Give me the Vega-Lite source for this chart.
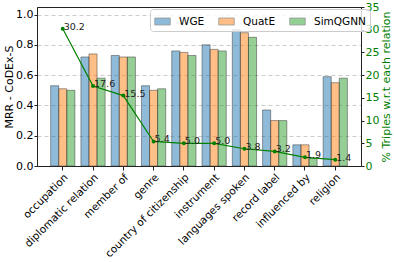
{
  "$schema": "https://vega.github.io/schema/vega-lite/v6.json",
  "autosize": {"type": "none"},
  "width": 324,
  "height": 159,
  "padding": {"left": 37, "top": 7, "right": 33, "bottom": 96},
  "config": {
    "font": "DejaVu Sans",
    "view": {"stroke": "#222", "strokeWidth": 1},
    "axis": {"labelFont": "DejaVu Sans", "titleFont": "DejaVu Sans", "labelColor": "#000", "titleColor": "#000", "domainColor": "#222", "tickColor": "#222", "titleFontWeight": "normal"}
  },
  "datasets": {
    "mrr": [
      {"relation": "occupation", "model": "WGE", "mrr": 0.53},
      {"relation": "occupation", "model": "QuatE", "mrr": 0.51},
      {"relation": "occupation", "model": "SimQGNN", "mrr": 0.50},
      {"relation": "diplomatic relation", "model": "WGE", "mrr": 0.72},
      {"relation": "diplomatic relation", "model": "QuatE", "mrr": 0.74},
      {"relation": "diplomatic relation", "model": "SimQGNN", "mrr": 0.58},
      {"relation": "member of", "model": "WGE", "mrr": 0.73},
      {"relation": "member of", "model": "QuatE", "mrr": 0.72},
      {"relation": "member of", "model": "SimQGNN", "mrr": 0.72},
      {"relation": "genre", "model": "WGE", "mrr": 0.53},
      {"relation": "genre", "model": "QuatE", "mrr": 0.50},
      {"relation": "genre", "model": "SimQGNN", "mrr": 0.51},
      {"relation": "country of citizenship", "model": "WGE", "mrr": 0.76},
      {"relation": "country of citizenship", "model": "QuatE", "mrr": 0.75},
      {"relation": "country of citizenship", "model": "SimQGNN", "mrr": 0.73},
      {"relation": "instrument", "model": "WGE", "mrr": 0.80},
      {"relation": "instrument", "model": "QuatE", "mrr": 0.77},
      {"relation": "instrument", "model": "SimQGNN", "mrr": 0.76},
      {"relation": "languages spoken", "model": "WGE", "mrr": 0.90},
      {"relation": "languages spoken", "model": "QuatE", "mrr": 0.88},
      {"relation": "languages spoken", "model": "SimQGNN", "mrr": 0.85},
      {"relation": "record label", "model": "WGE", "mrr": 0.37},
      {"relation": "record label", "model": "QuatE", "mrr": 0.30},
      {"relation": "record label", "model": "SimQGNN", "mrr": 0.30},
      {"relation": "influenced by", "model": "WGE", "mrr": 0.14},
      {"relation": "influenced by", "model": "QuatE", "mrr": 0.14},
      {"relation": "influenced by", "model": "SimQGNN", "mrr": 0.05},
      {"relation": "religion", "model": "WGE", "mrr": 0.59},
      {"relation": "religion", "model": "QuatE", "mrr": 0.55},
      {"relation": "religion", "model": "SimQGNN", "mrr": 0.58}
    ],
    "pct": [
      {"relation": "occupation", "pct": 30.2, "label": "30.2"},
      {"relation": "diplomatic relation", "pct": 17.6, "label": "17.6"},
      {"relation": "member of", "pct": 15.5, "label": "15.5"},
      {"relation": "genre", "pct": 5.4, "label": "5.4"},
      {"relation": "country of citizenship", "pct": 5.0, "label": "5.0"},
      {"relation": "instrument", "pct": 5.0, "label": "5.0"},
      {"relation": "languages spoken", "pct": 3.8, "label": "3.8"},
      {"relation": "record label", "pct": 3.2, "label": "3.2"},
      {"relation": "influenced by", "pct": 1.9, "label": "1.9"},
      {"relation": "religion", "pct": 1.4, "label": "1.4"}
    ]
  },
  "encoding": {
    "x": {
      "field": "relation", "type": "nominal", "sort": null,
      "scale": {"domain": ["occupation", "diplomatic relation", "member of", "genre", "country of citizenship", "instrument", "languages spoken", "record label", "influenced by", "religion"], "paddingInner": 0.2, "paddingOuter": 0.45},
      "axis": {"title": null, "labelAngle": -45, "labelAlign": "right", "labelBaseline": "top", "labelFontSize": 10.5, "tickSize": 4, "labelPadding": 2}
    }
  },
  "layer": [
    {
      "data": {"name": "mrr"},
      "mark": {"type": "bar", "fillOpacity": 0.5, "stroke": "#333", "strokeOpacity": 0.6, "strokeWidth": 0.8},
      "encoding": {
        "xOffset": {"field": "model", "type": "nominal", "sort": ["WGE", "QuatE", "SimQGNN"]},
        "y": {
          "field": "mrr", "type": "quantitative",
          "scale": {"domain": [0, 1.05], "nice": false},
          "axis": {"title": "MRR - CoDEx-S", "titleFontSize": 11, "labelFontSize": 11, "values": [0, 0.2, 0.4, 0.6, 0.8, 1.0], "format": ".1f", "grid": true, "gridDash": [4, 3], "gridColor": "#cccccc", "tickSize": 3, "labelPadding": 1, "titlePadding": 1}
        },
        "fill": {
          "field": "model", "type": "nominal",
          "scale": {"domain": ["WGE", "QuatE", "SimQGNN"], "range": ["#1f77b4", "#ff7f0e", "#2ca02c"]},
          "legend": {
            "title": null, "orient": "none", "legendX": 113, "legendY": 2, "direction": "horizontal",
            "symbolType": "M-1,-0.45H1V0.45H-1Z", "symbolSize": 240, "symbolOpacity": 0.5, "symbolStrokeColor": "#333", "symbolStrokeWidth": 0.8,
            "labelFontSize": 10.5, "columnPadding": 12, "fillColor": "rgba(255,255,255,0.8)", "strokeColor": "#cccccc", "cornerRadius": 3, "padding": 4, "labelOffset": 8
          }
        }
      }
    },
    {
      "data": {"name": "pct"},
      "layer": [
        {"mark": {"type": "line", "color": "#008000", "strokeWidth": 1.2}, "encoding": {}},
        {"mark": {"type": "point", "filled": true, "color": "#008000", "size": 16, "opacity": 1}, "encoding": {}},
        {"mark": {"type": "text", "align": "left", "baseline": "middle", "dx": 1, "dy": -2, "fontSize": 9.5, "color": "#222"}, "encoding": {"text": {"field": "label"}}}
      ],
      "encoding": {
        "y": {
          "field": "pct", "type": "quantitative",
          "scale": {"domain": [0, 35], "nice": false},
          "axis": {"orient": "right", "title": "% Triples w.r.t each relation", "titleAngle": 270, "titleBaseline": "top", "titleColor": "#008000", "labelColor": "#008000", "titleFontSize": 11, "labelFontSize": 11, "values": [0, 5, 10, 15, 20, 25, 30, 35], "grid": false, "tickSize": 3, "labelPadding": 1, "titlePadding": 2}
        }
      }
    }
  ],
  "resolve": {"scale": {"y": "independent"}}
}
